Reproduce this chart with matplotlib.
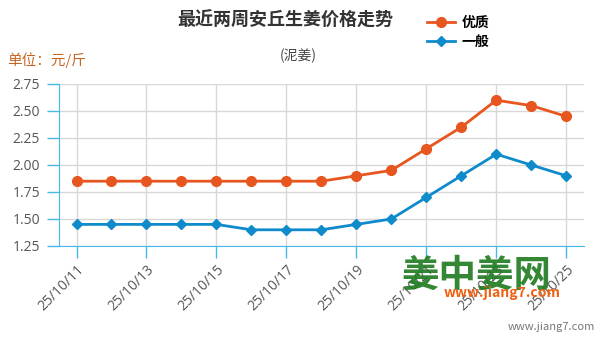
import matplotlib
matplotlib.use("Agg")
import matplotlib.pyplot as plt

plt.rcParams['font.family'] = ['Noto Sans CJK SC', 'DejaVu Sans']

# data
dates = ['25/10/11', '25/10/12', '25/10/13', '25/10/14', '25/10/15', '25/10/16',
         '25/10/17', '25/10/18', '25/10/19', '25/10/20', '25/10/21', '25/10/22',
         '25/10/23', '25/10/24', '25/10/25']
youzhi = [1.85, 1.85, 1.85, 1.85, 1.85, 1.85, 1.85, 1.85, 1.90, 1.95, 2.15, 2.35, 2.60, 2.55, 2.45]
yiban = [1.45, 1.45, 1.45, 1.45, 1.45, 1.40, 1.40, 1.40, 1.45, 1.50, 1.70, 1.90, 2.10, 2.00, 1.90]
yticks = [1.25, 1.50, 1.75, 2.00, 2.25, 2.50, 2.75]

orange = '#E8561F'
blue = '#0F8BCB'
axis_blue = '#45B8E8'

fig = plt.figure(figsize=(6.01, 3.41), dpi=100)
ax = fig.add_axes([0.0982, 0.2786, 0.873, 0.4751])

x = list(range(len(dates)))
ax.plot(x, youzhi, color=orange, lw=2, marker='o', ms=7, label='优质', zorder=3)
ax.plot(x, yiban, color=blue, lw=2, marker='D', ms=5, label='一般', zorder=3)

ax.set_xlim(-0.5, len(dates) - 0.5)
ax.set_ylim(1.25, 2.75)
ax.set_yticks(yticks)
ax.set_yticklabels(['%.2f' % v for v in yticks], fontsize=10, color='#555555',
                   family=['Open Sans', 'DejaVu Sans'])
ax.set_xticks(x[::2])
ax.set_xticklabels(dates[::2], rotation=45, ha='right', rotation_mode='anchor',
                   fontsize=10, color='#555555', family=['Open Sans', 'DejaVu Sans'])
ax.tick_params(axis='both', colors=axis_blue, width=1, labelcolor='#555555')
ax.tick_params(axis='y', length=8.6, pad=5)
ax.tick_params(axis='x', length=8.6, pad=3)

ax.grid(True, color='#d8d8d8', lw=1, zorder=0)
for s in ['top', 'right']:
    ax.spines[s].set_visible(False)
ax.spines['left'].set_color(axis_blue)
ax.spines['bottom'].set_color(axis_blue)

fig.text(0.474, 0.94, '最近两周安丘生姜价格走势', fontsize=13, weight='bold',
         color='#333333', ha='center', va='center')
fig.text(0.496, 0.835, '(泥姜)', fontsize=10, color='#444444', ha='center', va='center')
fig.text(0.012, 0.823, '单位：元/斤', fontsize=10.5, color='#C8641E', ha='left', va='center')

fig.legend(loc='upper left', bbox_to_anchor=(0.69, 0.99), frameon=False,
           handlelength=2, handletextpad=0.5, labelspacing=0.35,
           prop={'weight': 'bold', 'size': 10})

# watermark
fig.text(0.668, 0.194, '姜中姜网', fontsize=27, weight='bold', color='#1E7A1E',
         ha='left', va='center', alpha=0.9)
fig.text(0.835, 0.141, 'www.jiang7.com', fontsize=10, style='italic', weight='bold',
         color='#F06010', ha='center', va='center')
fig.text(0.99, 0.04, 'www.jiang7.com', fontsize=8, color='#777777', ha='right', va='center')

fig.savefig('out.png', dpi=100)
